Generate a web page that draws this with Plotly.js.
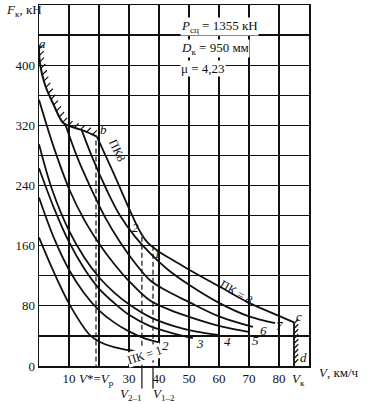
<!DOCTYPE html>
<html><head><meta charset="utf-8">
<script src="https://cdn.plot.ly/plotly-3.0.1.min.js"></script>
<style>html,body{margin:0;padding:0;background:#fff;}#chart{width:376px;height:404px;}</style>
</head><body><div id="chart"></div>
<script>
// Adhesion limit a-b
const V_adh = [0, 0.3, 2, 4.8, 8.1, 10.3, 14.8, 19.3];
const F_adh = [426, 403, 374, 348, 323, 319, 313, 305];
// Controller positions (ПК)
const V_pk8 = [19.3, 25, 30.3, 33.5, 36, 40, 45, 50, 60, 70, 78, 85];
const F_pk8 = [305, 255, 207, 180, 165, 152, 140, 128, 106, 84, 70, 58];
const V_pk7 = [14.3, 18, 22.7, 27, 32, 37, 43, 50, 60, 70, 78.7];
const F_pk7 = [313, 275, 233, 200, 172, 150, 128, 108, 84, 66, 57];
const V_pk6 = [8.7, 13, 17.7, 22, 27, 32, 37, 43, 50, 60, 71.3];
const F_pk6 = [322, 275, 233, 198, 165, 137, 114, 99, 85, 66, 52];
const V_pk5 = [0, 5, 10.3, 15, 20, 25, 30, 37, 44, 50.3, 60.3, 70.3];
const F_pk5 = [354, 290, 233, 195, 163, 136, 113, 87, 74, 65, 53, 45];
const V_pk4 = [0, 4.5, 10, 15, 20, 25, 30, 37, 45, 52, 60.3];
const F_pk4 = [295, 233, 180, 145, 118, 98, 82, 65, 53, 46, 41];
const V_pk3 = [0, 5, 10, 15, 20, 25, 30, 37, 45, 51.3];
const F_pk3 = [263, 210, 165, 130, 103, 84, 68, 53, 43, 37];
const V_pk2 = [0, 5, 10, 15, 20, 25, 30, 35, 40.3];
const F_pk2 = [224, 170, 128, 97, 74, 58, 46, 37, 31];
const V_pk1 = [0, 4.7, 10.3, 17, 20.3, 25, 30, 36];
const F_pk1 = [171, 127, 81, 41, 32, 25, 21, 17];
// End boundary c-d
const V_cd = [85, 85];
const F_cd = [58, 0];
// Characteristic speeds
const V_star = 19;
const V_21 = 34.3;
const V_12 = 38;
const F_dash_top = [300, 172, 160];
// axis ticks
const xTickVals = [10, 30, 40, 50, 60, 70, 80];
const xTickText = ['10', '30', '40', '50', '60', '70', '80'];
const yTickVals = [0, 80, 160, 240, 320, 400];
const yTickText = ['0', '80', '160', '240', '320', '400'];

const PX_X = 270/90, PX_Y = 361/480;
const black = '#111';

function line(V, F, w, dash, shape) {
  return {x: V, y: F, type: 'scatter', mode: 'lines', hoverinfo: 'skip',
    line: {color: black, width: w || 1.8, dash: dash || 'solid', shape: shape || 'spline', smoothing: 1}};
}
// hatch ticks along a polyline (offset direction in pixel space)
function hatch(V, F, step, len, ang) {
  const hx = [], hy = [];
  const pts = V.map((v, i) => [v * PX_X, F[i] * PX_Y]);
  let acc = step / 2;
  for (let i = 0; i < pts.length - 1; i++) {
    const [x0, y0] = pts[i], [x1, y1] = pts[i + 1];
    const seg = Math.hypot(x1 - x0, y1 - y0);
    let t = acc;
    while (t < seg) {
      const px = x0 + (x1 - x0) * t / seg, py = y0 + (y1 - y0) * t / seg;
      hx.push(px / PX_X, (px + len * Math.cos(ang)) / PX_X, null);
      hy.push(py / PX_Y, (py + len * Math.sin(ang)) / PX_Y, null);
      t += step;
    }
    acc = t - seg;
  }
  return {x: hx, y: hy, type: 'scatter', mode: 'lines', hoverinfo: 'skip', line: {color: black, width: 1.2}};
}

const traces = [
  line(V_adh, F_adh, 2),
  hatch(V_adh, F_adh, 6.5, 6, Math.PI / 4),
  line(V_pk8, F_pk8), line(V_pk7, F_pk7), line(V_pk6, F_pk6), line(V_pk5, F_pk5),
  line(V_pk4, F_pk4), line(V_pk3, F_pk3), line(V_pk2, F_pk2), line(V_pk1, F_pk1),
  line(V_cd, F_cd, 1.8, 'solid', 'linear'),
  hatch([V_cd[1], V_cd[0]], [F_cd[1], F_cd[0]], 5, 6, Math.PI / 4),
  line([V_star, V_star], [F_dash_top[0], 0], 1.2, '5px,3px', 'linear'),
  line([V_21, V_21], [F_dash_top[1], 0], 1.2, '5px,3px', 'linear'),
  line([V_12, V_12], [F_dash_top[2], 0], 1.2, '5px,3px', 'linear')
];

const serif = 'Liberation Serif, Times New Roman, serif';
const ann = (x, y, text, opts) => Object.assign({x, y, text, xref: 'x', yref: 'y', showarrow: false,
  font: {family: serif, size: 13, color: black}}, opts || {});
const below = (x, yTopImg, text, opts) => Object.assign({x, y: (366 - yTopImg) / 361, text, xref: 'x', yref: 'paper',
  yanchor: 'top', showarrow: false, font: {family: serif, size: 13, color: black}}, opts || {});

const annotations = [
  {xref: 'paper', yref: 'paper', x: -0.128, y: 1.014, xanchor: 'left', yanchor: 'top', showarrow: false,
   text: '<i>F</i><sub>к</sub>, кН', font: {family: serif, size: 13, color: black}},
  {xref: 'paper', yref: 'paper', x: 1.03, y: -0.018, xanchor: 'left', yanchor: 'middle', showarrow: false,
   text: '<i>V</i>, км/ч', font: {family: serif, size: 13, color: black}},
  below(19, 369, '<i>V</i>*=<i>V</i><sub>р</sub>'),
  below(86.5, 369, '<i>V</i><sub>к</sub>'),
  below(V_21 - 3.6, 384, '<i>V</i><sub>2–1</sub>'),
  below(V_12 + 3.8, 384, '<i>V</i><sub>1–2</sub>'),
  ann(47, 452, '<i>P</i><sub>сц</sub> = 1355 кН', {xanchor: 'left', bgcolor: '#fff', borderpad: 0}),
  ann(47, 422, '<i>D</i><sub>к</sub> = 950 мм', {xanchor: 'left', bgcolor: '#fff', borderpad: 0}),
  ann(47, 395, 'μ = 4,23', {xanchor: 'left', bgcolor: '#fff', borderpad: 0}),
  ann(1.3, 429, '<i>a</i>'),
  ann(21.5, 315, '<i>b</i>'),
  ann(86.5, 66, '<i>c</i>'),
  ann(88, 11, '<i>d</i>'),
  ann(26, 287, 'ПК8', {textangle: 65, font: {family: serif, size: 12, color: black}}),
  ann(65.7, 99, 'ПК = 8', {textangle: 30, font: {family: serif, size: 12, color: black}}),
  ann(80, 54, '<i>7</i>'), ann(74.7, 47, '<i>6</i>'), ann(72, 34, '<i>5</i>'),
  ann(62.7, 33, '<i>4</i>'), ann(53.7, 30, '<i>3</i>'), ann(42, 27, '<i>2</i>'),
  ann(35.3, 14, 'ПК = 1', {textangle: -18, bgcolor: '#fff', borderpad: 0, font: {family: serif, size: 12, color: black}}),
  ann(32, 184, '<i>2</i>'), ann(39.4, 150, '<i>1</i>')
];

const shapes = [V_21, V_12].map(v => ({type: 'line', xref: 'x', yref: 'paper', x0: v, x1: v, y0: 0, y1: -0.062,
  line: {color: black, width: 1.2}}));

const gridStyle = {showgrid: true, gridcolor: black, gridwidth: 1.2};
const layout = {
  width: 376, height: 404, margin: {l: 39, r: 67, t: 5, b: 38},
  paper_bgcolor: '#fff', plot_bgcolor: '#fff', showlegend: false,
  xaxis: Object.assign({range: [0, 90], tickvals: xTickVals, ticktext: xTickText,
    minor: Object.assign({dtick: 10, tick0: 0}, gridStyle),
    showline: true, mirror: true, linecolor: black, linewidth: 1.5, zeroline: false, ticks: '',
    tickfont: {family: serif, size: 13, color: black}, fixedrange: true}, gridStyle),
  yaxis: Object.assign({range: [0, 480], tickvals: yTickVals, ticktext: yTickText,
    minor: Object.assign({dtick: 40, tick0: 0}, gridStyle),
    showline: true, mirror: true, linecolor: black, linewidth: 1.5, zeroline: false, ticks: '',
    tickfont: {family: serif, size: 13, color: black}, fixedrange: true}, gridStyle),
  annotations: annotations,
  shapes: shapes
};
Plotly.newPlot('chart', traces, layout, {staticPlot: true, displayModeBar: false});
</script></body></html>
